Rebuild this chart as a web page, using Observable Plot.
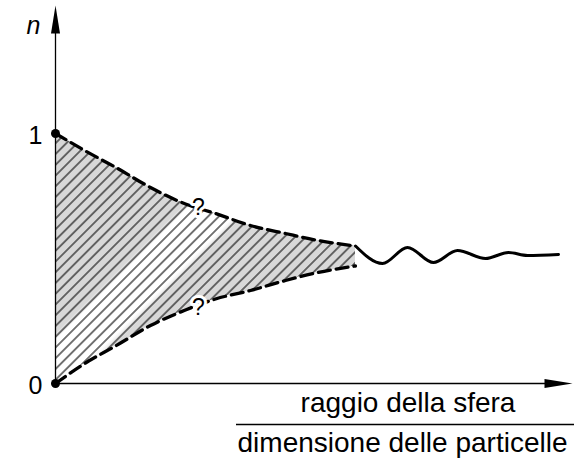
<!DOCTYPE html>
<html>
<head>
<meta charset="utf-8">
<script src="https://cdn.jsdelivr.net/npm/d3@7"></script>
<script src="https://cdn.jsdelivr.net/npm/@observablehq/plot@0.6"></script>
<style>
  body { margin: 0; background: #fff; }
  #chart svg { display: block; }
</style>
</head>
<body>
<div id="chart"></div>
<script>
// ---- data (ratio = raggio della sfera / dimensione delle particelle) ----
const sizeRatio = [0, 0.6, 1.2, 1.9, 2.6, 3.2, 3.9, 4.6, 5.2, 6.0];
const nUpper    = [1.0, 0.93, 0.865, 0.784, 0.718, 0.68, 0.632, 0.6, 0.574, 0.55];
const nLower    = [0.0, 0.082, 0.15, 0.232, 0.294, 0.338, 0.372, 0.412, 0.442, 0.47];

const waveRatio = [6.0, 6.54, 7.04, 7.56, 8.04, 8.6, 9.06, 9.44, 10.06];
const waveN     = [0.55, 0.48, 0.544, 0.484, 0.532, 0.5, 0.524, 0.512, 0.516];

const unknownRatio = [2.86, 2.86];
const unknownN     = [0.704, 0.304];
const unknownLabel = ["?", "?"];

const yTicks = [0, 1];
const yTickLabels = ["0", "1"];
const yLabel = "n";
const xLabelTop = "raggio della sfera";
const xLabelBottom = "dimensione delle particelle";

const xAxisMax = 10.34;
const yAxisMax = 1.512;

// ---- tables built from the arrays ----
const band = sizeRatio.map((x, i) => ({x, upper: nUpper[i], lower: nLower[i]}));
const wave = waveRatio.map((x, i) => ({x, n: waveN[i]}));
const unknowns = unknownRatio.map((x, i) => ({x, n: unknownN[i], label: unknownLabel[i]}));
const endpoints = [{x: sizeRatio[0], n: nUpper[0]}, {x: sizeRatio[0], n: nLower[0]}];
const ticks = yTicks.map((v, i) => ({v, label: yTickLabels[i]}));

const arrowHead = {
  draw(ctx) {
    ctx.moveTo(0, 0);
    ctx.lineTo(-4.5, 28);
    ctx.lineTo(4.5, 28);
    ctx.closePath();
  }
};

const font = "'Liberation Sans', Arial, Helvetica, sans-serif";

const plot = Plot.plot({
  width: 586,
  height: 460,
  x: {domain: [0, 10], range: [55, 555], axis: null},
  y: {domain: [0, 1], range: [383, 133], axis: null},
  style: {fontFamily: font, background: "white", color: "black"},
  marks: [
    Plot.areaY(band, {x: "x", y1: "lower", y2: "upper", curve: "monotone-x", fill: "url(#shade)"}),
    Plot.areaY(band, {x: "x", y1: "lower", y2: "upper", curve: "monotone-x", fill: "url(#hatch)"}),
    // axes
    Plot.ruleX([0], {y1: 0, y2: yAxisMax - 0.1, stroke: "black", strokeWidth: 1.3}),
    Plot.ruleY([0], {x1: 0, x2: xAxisMax - 0.5, stroke: "black", strokeWidth: 1.5}),
    Plot.dot([{x: 0, n: yAxisMax}], {x: "x", y: "n", symbol: arrowHead, fill: "black", stroke: "none"}),
    Plot.dot([{x: xAxisMax, n: 0}], {x: "x", y: "n", symbol: arrowHead, rotate: 90, fill: "black", stroke: "none"}),
    // bounds
    Plot.line(band, {x: "x", y: "upper", curve: "monotone-x", stroke: "black", strokeWidth: 3.3, strokeDasharray: "12,6"}),
    Plot.line(band, {x: "x", y: "lower", curve: "monotone-x", stroke: "black", strokeWidth: 3.3, strokeDasharray: "12,6"}),
    Plot.line(wave, {x: "x", y: "n", curve: "monotone-x", stroke: "black", strokeWidth: 3}),
    Plot.dot(endpoints, {x: "x", y: "n", r: 4.5, fill: "black", stroke: "none"}),
    Plot.text(unknowns, {x: "x", y: "n", text: "label", fontSize: 23, fill: "black", stroke: "white", strokeWidth: 6}),
    // tick labels and axis labels
    Plot.text(ticks, {x: 0, y: "v", text: "label", textAnchor: "end", lineAnchor: "bottom", dx: -13, dy: 10, fontSize: 25, fill: "black"}),
    Plot.text([yLabel], {x: 0, y: 1.4, text: d => d, lineAnchor: "bottom", dx: -22, fontSize: 25, fontStyle: "italic", fill: "black"}),
    Plot.text([xLabelTop], {x: 7.05, y: -0.112, text: d => d, lineAnchor: "bottom", fontSize: 28, fill: "black"}),
    Plot.ruleY([-0.164], {x1: 3.62, x2: 10.38, stroke: "black", strokeWidth: 1.5}),
    Plot.text([xLabelBottom], {x: 6.94, y: -0.272, text: d => d, lineAnchor: "bottom", fontSize: 28, fill: "black"})
  ]
});

// patterns / gradient used as fills
const svg = d3.select(plot);
const defs = svg.insert("defs", ":first-child");
const grad = defs.append("linearGradient")
  .attr("id", "shade").attr("gradientUnits", "userSpaceOnUse")
  .attr("x1", 0).attr("y1", 0).attr("x2", 500).attr("y2", 500);
[[0, "#d8d8d8"], [0.388, "#d8d8d8"], [0.396, "#ffffff"], [0.45, "#ffffff"], [0.46, "#d8d8d8"], [1, "#d8d8d8"]]
  .forEach(([o, c]) => grad.append("stop").attr("offset", o).attr("stop-color", c));
const pat = defs.append("pattern")
  .attr("id", "hatch").attr("patternUnits", "userSpaceOnUse")
  .attr("width", 7.6).attr("height", 10)
  .attr("patternTransform", "rotate(45)");
pat.append("line").attr("x1", 3.8).attr("y1", -1).attr("x2", 3.8).attr("y2", 11)
  .attr("stroke", "#1a1a1a").attr("stroke-width", 1.2);

document.getElementById("chart").append(plot);
</script>
</body>
</html>
